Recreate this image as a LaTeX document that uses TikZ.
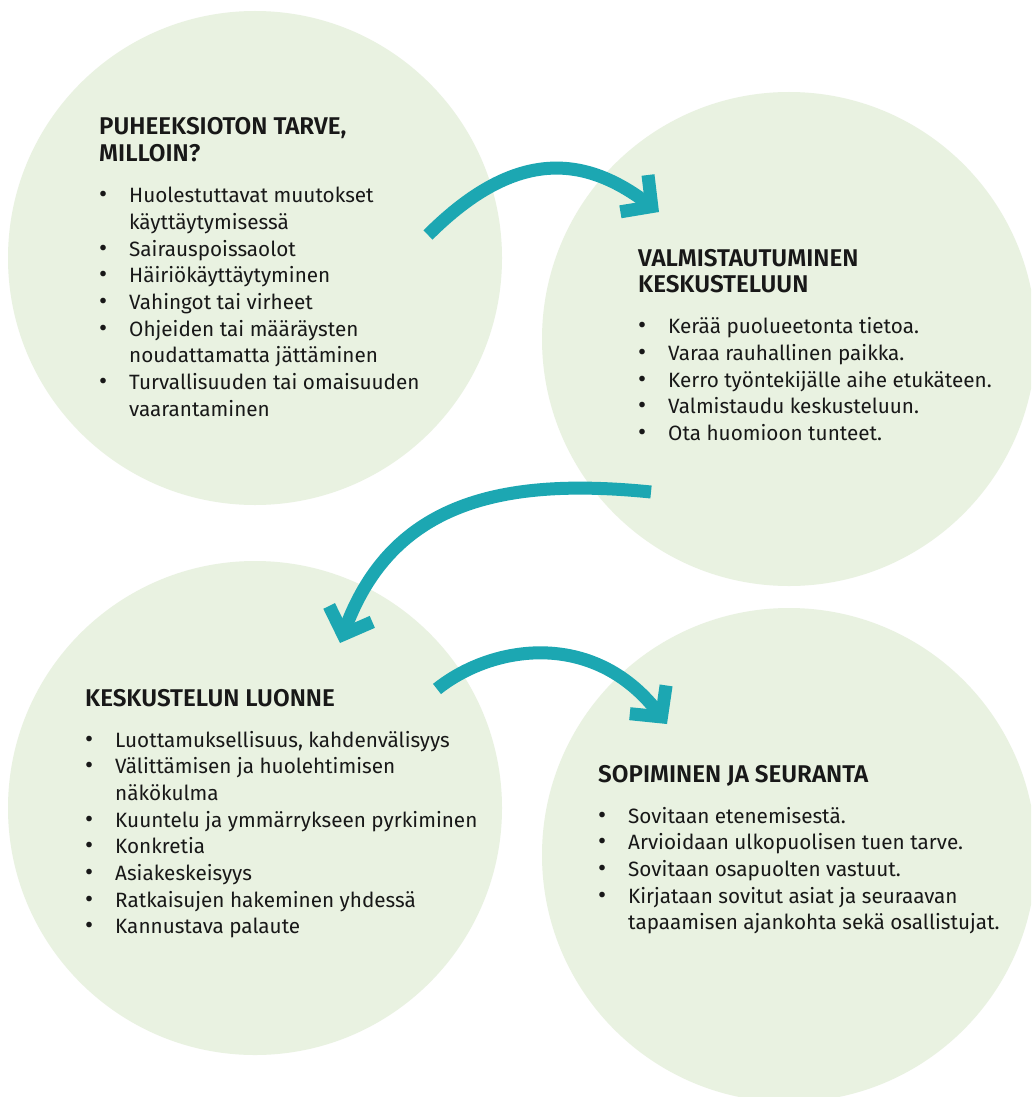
\documentclass[tikz,border=0pt]{standalone}
\usepackage{fontspec}
\usepackage{graphicx}
\setmainfont{Fira Sans}
\newfontfamily\headfont{Fira Sans SemiBold}
\usetikzlibrary{arrows.meta}
\definecolor{bubblegreen}{RGB}{233,242,225}
\definecolor{flowteal}{RGB}{28,167,178}
\definecolor{ink}{RGB}{24,24,24}

% rows of a bulleted text block
\newcommand\headrow[1]{\multicolumn{2}{@{}l@{}}{\headfont\fontsize{24.2}{26.7}\selectfont #1}\\}
\newcommand\lastheadrow[1]{\multicolumn{2}{@{}l@{}}{\headfont\fontsize{24.2}{26.7}\selectfont #1}\\[14.3pt]}
\newcommand\itemrow[1]{\scalebox{1.2}{\textbullet} & #1\\}
\newcommand\morerow[1]{& #1\\}

\begin{document}
\begin{tikzpicture}[x=1pt,y=-1pt,
  bubble/.style={circle, fill=bubblegreen, minimum size=494pt, inner sep=0pt},
  flow/.style={draw=flowteal, line width=13pt,
    -{Straight Barb[length=22pt,width=46pt,sharp]}},
  block/.style={anchor=base west, inner sep=0pt, text=ink,
    font=\fontsize{20.7}{26.7}\selectfont}
]
\useasboundingbox (0,0) rectangle (1031,1097);
\fill[white] (0,0) rectangle (1031,1097);
\clip (0,0) rectangle (1031,1097);

% the four stages
\node[bubble] (c1) at (255,258) {};
\node[bubble] (c2) at (789,339) {};
\node[bubble] (c3) at (255,808) {};
\node[bubble] (c4) at (789,855) {};

% curved arrows between the stages
\coordinate (a1s) at (428,235);
\coordinate (a1e) at (659,212);
\coordinate (a2s) at (651,492);
\coordinate (a2e) at (340,643);
\coordinate (a3s) at (437,689);
\coordinate (a3e) at (667,724);
\draw[flow] (a1s) .. controls (518,145) and (587,158) .. (a1e);
\draw[flow] (a2s) .. controls (502,477) and (392,502) .. (a2e);
\draw[flow] (a3s) .. controls (492,645) and (593,629) .. (a3e);

% texts
\node[block] (t1) at (99,135) {\begin{tabular}[t]{@{}p{30pt}@{}l@{}}
\headrow{PUHEEKSIOTON TARVE,}
\lastheadrow{MILLOIN?}
\itemrow{Huolestuttavat muutokset}
\morerow{käyttäytymisessä}
\itemrow{Sairauspoissaolot}
\itemrow{Häiriökäyttäytyminen}
\itemrow{Vahingot tai virheet}
\itemrow{Ohjeiden tai määräysten}
\morerow{noudattamatta jättäminen}
\itemrow{Turvallisuuden tai omaisuuden}
\morerow{vaarantaminen}
\end{tabular}};

\node[block] (t2) at (638,266) {\begin{tabular}[t]{@{}p{30pt}@{}l@{}}
\headrow{VALMISTAUTUMINEN}
\lastheadrow{KESKUSTELUUN}
\itemrow{Kerää puolueetonta tietoa.}
\itemrow{Varaa rauhallinen paikka.}
\itemrow{Kerro työntekijälle aihe etukäteen.}
\itemrow{Valmistaudu keskusteluun.}
\itemrow{Ota huomioon tunteet.}
\end{tabular}};

\node[block] (t3) at (85,706) {\begin{tabular}[t]{@{}p{30pt}@{}l@{}}
\lastheadrow{KESKUSTELUN LUONNE}
\itemrow{Luottamuksellisuus, kahdenvälisyys}
\itemrow{Välittämisen ja huolehtimisen}
\morerow{näkökulma}
\itemrow{Kuuntelu ja ymmärrykseen pyrkiminen}
\itemrow{Konkretia}
\itemrow{Asiakeskeisyys}
\itemrow{Ratkaisujen hakeminen yhdessä}
\itemrow{Kannustava palaute}
\end{tabular}};

\node[block] (t4) at (598,782) {\begin{tabular}[t]{@{}p{30pt}@{}l@{}}
\lastheadrow{SOPIMINEN JA SEURANTA}
\itemrow{Sovitaan etenemisestä.}
\itemrow{Arvioidaan ulkopuolisen tuen tarve.}
\itemrow{Sovitaan osapuolten vastuut.}
\itemrow{Kirjataan sovitut asiat ja seuraavan}
\morerow{tapaamisen ajankohta sekä osallistujat.}
\end{tabular}};
\end{tikzpicture}
\end{document}
